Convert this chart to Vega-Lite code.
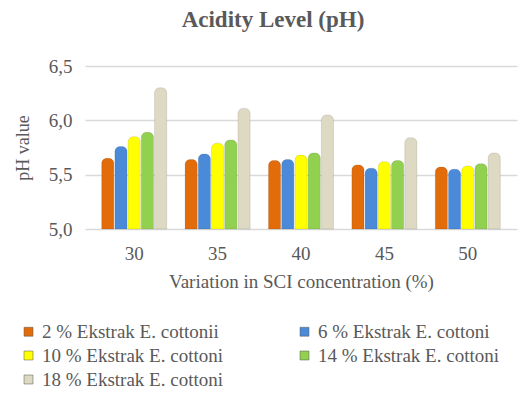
{
  "$schema": "https://vega.github.io/schema/vega-lite/v6.json",
  "width": 432,
  "height": 163,
  "padding": {"left": 14, "top": 9, "right": 6, "bottom": 5},
  "background": "white",
  "title": {"text": "Acidity Level (pH)", "font": "Liberation Serif", "fontSize": 23, "fontWeight": "bold", "color": "#595959", "offset": 25, "dx": -28},
  "data": {"values": [
    {"c": "30", "s": "2 % Ekstrak E. cottonii", "v": 5.65},
    {"c": "30", "s": "6 % Ekstrak E. cottoni", "v": 5.76},
    {"c": "30", "s": "10 % Ekstrak E. cottoni", "v": 5.85},
    {"c": "30", "s": "14 % Ekstrak E. cottoni", "v": 5.89},
    {"c": "30", "s": "18 % Ekstrak E. cottoni", "v": 6.30},
    {"c": "35", "s": "2 % Ekstrak E. cottonii", "v": 5.64},
    {"c": "35", "s": "6 % Ekstrak E. cottoni", "v": 5.69},
    {"c": "35", "s": "10 % Ekstrak E. cottoni", "v": 5.79},
    {"c": "35", "s": "14 % Ekstrak E. cottoni", "v": 5.82},
    {"c": "35", "s": "18 % Ekstrak E. cottoni", "v": 6.11},
    {"c": "40", "s": "2 % Ekstrak E. cottonii", "v": 5.63},
    {"c": "40", "s": "6 % Ekstrak E. cottoni", "v": 5.64},
    {"c": "40", "s": "10 % Ekstrak E. cottoni", "v": 5.68},
    {"c": "40", "s": "14 % Ekstrak E. cottoni", "v": 5.70},
    {"c": "40", "s": "18 % Ekstrak E. cottoni", "v": 6.05},
    {"c": "45", "s": "2 % Ekstrak E. cottonii", "v": 5.59},
    {"c": "45", "s": "6 % Ekstrak E. cottoni", "v": 5.56},
    {"c": "45", "s": "10 % Ekstrak E. cottoni", "v": 5.62},
    {"c": "45", "s": "14 % Ekstrak E. cottoni", "v": 5.63},
    {"c": "45", "s": "18 % Ekstrak E. cottoni", "v": 5.84},
    {"c": "50", "s": "2 % Ekstrak E. cottonii", "v": 5.57},
    {"c": "50", "s": "6 % Ekstrak E. cottoni", "v": 5.55},
    {"c": "50", "s": "10 % Ekstrak E. cottoni", "v": 5.58},
    {"c": "50", "s": "14 % Ekstrak E. cottoni", "v": 5.60},
    {"c": "50", "s": "18 % Ekstrak E. cottoni", "v": 5.70}
  ]},
  "mark": {"type": "bar", "cornerRadiusTopLeft": 5, "cornerRadiusTopRight": 5, "stroke": "#00000033", "strokeWidth": 0.5},
  "encoding": {
    "x": {"field": "c", "type": "nominal", "sort": null,
      "scale": {"paddingInner": 0.22, "paddingOuter": 0.2},
      "axis": {"title": "Variation in SCI concentration (%)", "labelAngle": 0, "labelFont": "Liberation Serif", "labelFontSize": 19, "labelColor": "#595959", "titleFont": "Liberation Serif", "titleFontSize": 19, "titleFontWeight": "normal", "titleColor": "#595959", "domain": false, "ticks": false, "labelPadding": 15, "titlePadding": 9}},
    "xOffset": {"field": "s", "type": "nominal", "sort": null, "scale": {"paddingInner": 0.08}},
    "y": {"field": "v", "type": "quantitative",
      "scale": {"domain": [5.0, 6.5], "nice": false, "zero": false},
      "axis": {"title": "pH value", "values": [5.0, 5.5, 6.0, 6.5], "labelExpr": "replace(format(datum.value, '.1f'), '.', ',')", "labelFont": "Liberation Serif", "labelFontSize": 19, "labelColor": "#595959", "titleFont": "Liberation Serif", "titleFontSize": 18, "titleFontWeight": "normal", "titleColor": "#595959", "domain": false, "ticks": false, "labelPadding": 13, "titlePadding": 16, "gridColor": "#d9d9d9", "gridWidth": 1.5}},
    "y2": {"datum": 5.0},
    "color": {"field": "s", "type": "nominal", "sort": null,
      "scale": {"range": ["#E26B0A", "#4A8AD8", "#FFFF00", "#92D050", "#DDD9C3"]},
      "legend": {"title": null, "orient": "none", "legendX": -66, "legendY": 256, "direction": "horizontal", "columns": 2, "columnPadding": 72, "rowPadding": 4, "symbolType": "square", "symbolSize": 80, "symbolStrokeWidth": 0.5, "symbolStrokeColor": "#555555", "symbolOffset": 0, "labelOffset": 4, "labelFont": "Liberation Serif", "labelFontSize": 19, "labelColor": "#595959", "labelLimit": 300}}
  },
  "config": {"view": {"stroke": null}, "font": "Liberation Serif"}
}
